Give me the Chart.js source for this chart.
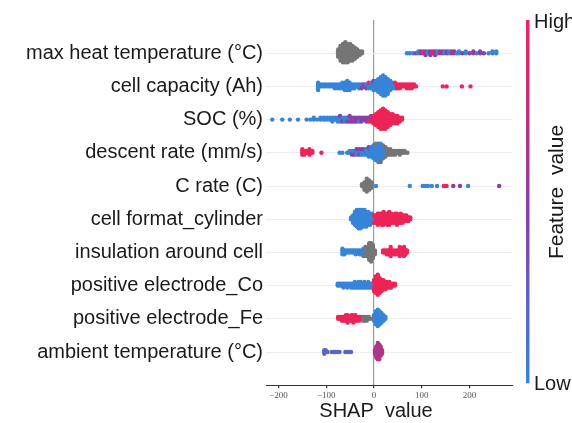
<!DOCTYPE html>
<html>
<head>
<meta charset="utf-8">
<script src="https://cdn.jsdelivr.net/npm/chart.js@4.4.1/dist/chart.umd.min.js"></script>
<style>html,body{margin:0;padding:0;background:#fff}</style>
</head>
<body>
<canvas id="c" width="572" height="423"></canvas>
<script>
// Feature names, top to bottom
const features = [
    'max heat temperature (°C)',
    'cell capacity (Ah)',
    'SOC (%)',
    'descent rate (mm/s)',
    'C rate (C)',
    'cell format_cylinder',
    'insulation around cell',
    'positive electrode_Co',
    'positive electrode_Fe',
    'ambient temperature (°C)'
];
const xTicks = [-200, -100, 0, 100, 200];

// Each entry: [SHAP value, how many samples, feature value 0..1 (null = missing -> gray)]
const maxHeatTemp = [
    [-75,5,null],[-70,9,null],[-65,11,null],[-60,12,null],[-55,11,null],[-50,10,null],[-45,9,null],[-40,7,null],[-35,5,null],[-30,3,null],[-25,2,null],
    [69,1,0],[75,1,0],[82,1,0],[88,1,0.5],[93,2,0],[98,2,0.5],[103,2,1],[108,3,0.5],[113,2,0],[118,3,0.5],[123,2,1],[128,3,0.5],[133,2,0],
    [138,2,0.7],[143,2,0.5],[148,2,0],[153,2,0.5],[158,2,0],[163,2,0.7],[168,2,0.5],[173,1,0],[178,2,0],[185,1,0.5],[192,2,0],[200,1,0.5],
    [208,2,0.5],[215,1,0],[222,2,0.5],[230,1,0.5],[240,1,0],[248,2,0],[256,2,0]
];
const cellCapacity = [
    [-117,5,0],[-112,2,0],[-106,2,0],[-100,2,0],[-94,2,0],[-88,2,0],[-82,3,0],[-76,3,0],[-71,3,0],[-66,4,0],[-61,5,0],[-56,6,0],[-51,5,0],
    [-46,3,0],[-41,3,0],[-36,2,0],[-31,3,0],[-26,2,0],[-26,1,0.5],[-21,1,1],[-21,1,0.5],[-16,2,0],[-16,1,0.5],[-11,3,0],[-11,1,1],[-6,4,0],
    [-1,5,0],[-1,1,0.5],[4,6,0],[9,8,0],[14,10,0],[19,12,0],[24,11,0],[29,9,0],[34,6,0],[39,4,0],[44,3,0],[44,1,1],[49,3,1],[54,3,1],
    [59,2,1],[64,2,1],[69,3,1],[74,3,1],[79,3,1],[84,2,1],[88,1,1],[144,1,1],[152,1,1],[184,1,1],[202,1,1]
];
const soc = [
    [-213,1,0],[-192,1,0],[-176,1,0],[-159,1,0],[-141,1,0],[-133,1,0],[-126,2,0],[-119,1,0],[-112,2,0],[-105,2,0],[-99,2,0],[-93,2,0],
    [-87,3,0],[-81,2,0],[-76,3,0],[-71,3,0],[-71,1,0.5],[-66,2,0],[-66,1,0.5],[-61,3,0],[-56,2,0],[-56,1,0.5],[-51,2,0],[-51,2,0.5],
    [-46,3,0.5],[-41,1,0],[-41,2,0.5],[-36,3,0.5],[-31,2,0.5],[-31,1,0],[-26,3,0.5],[-21,2,0.5],[-16,3,0.5],[-11,2,0.5],[-11,1,1],
    [-6,3,1],[-6,1,0.5],[-1,5,1],[4,7,1],[9,9,1],[14,11,1],[19,12,1],[24,11,1],[29,9,1],[34,7,1],[39,6,1],[44,5,1],[49,5,1],[54,3,1],[59,2,1]
];
const descentRate = [
    [-150,4,1],[-146,3,1],[-141,2,1],[-135,4,1],[-129,2,1],[-110,1,1],[-72,1,0],[-66,1,0],[-56,1,0],[-51,2,0],[-46,2,0],[-46,1,0.5],
    [-41,2,0],[-41,1,0.5],[-36,3,0],[-36,1,0.5],[-31,2,0],[-31,2,0.5],[-26,3,0],[-26,1,0.5],[-21,3,0],[-21,1,0.5],[-16,4,0],[-11,5,0],
    [-11,1,0.5],[-6,6,0],[-1,8,0],[4,9,0],[4,1,null],[9,11,0],[14,10,0],[14,1,null],[19,7,0],[19,1,null],[24,4,0],[24,2,null],
    [29,4,null],[34,4,null],[39,3,null],[44,3,null],[49,2,null],[54,3,null],[59,2,null],[64,2,null],[70,1,null]
];
const cRate = [
    [-25,2,null],[-20,5,null],[-15,2,0],[-15,6,null],[-10,6,null],[-5,4,null],[4,1,0],[75,1,0],[102,1,0],[108,1,0],[113,1,0],[121,1,0],
    [132,1,0],[146,1,1],[152,1,1],[166,1,0.5],[180,1,0.5],[197,1,0],[262,1,0.5]
];
const cellFormat = [
    [-48,2,0],[-44,5,0],[-40,8,0],[-36,10,0],[-32,11,0],[-28,11,0],[-24,10,0],[-20,10,0],[-16,9,0],[-12,8,0],[-8,7,0],[-4,6,0],[0,3,0],
    [0,2,1],[4,5,1],[8,7,1],[12,6,1],[16,7,1],[20,8,1],[24,6,1],[28,7,1],[32,8,1],[36,6,1],[40,5,1],[44,6,1],[48,7,1],[52,5,1],[56,6,1],
    [60,5,1],[64,4,1],[68,4,1],[72,3,1],[76,2,1]
];
const insulation = [
    [-66,4,0],[-62,3,0],[-58,2,0],[-54,2,0],[-50,2,0],[-46,2,0],[-42,2,0],[-38,3,0],[-34,2,0],[-30,3,0],[-26,3,0],[-22,4,0],[-22,1,null],
    [-18,3,0],[-18,3,null],[-14,6,null],[-10,10,null],[-6,11,null],[-2,8,null],[2,3,null],[19,2,1],[23,2,1],[27,3,1],[31,3,1],[35,6,1],
    [39,3,1],[44,3,1],[49,3,1],[54,6,1],[58,4,1],[63,6,1],[66,3,1],[69,2,1]
];
const positiveCo = [
    [-76,2,0],[-72,2,0],[-68,2,0],[-64,3,0],[-60,2,0],[-56,3,0],[-52,2,0],[-48,3,0],[-44,3,0],[-40,4,0],[-36,3,0],[-32,4,0],[-28,4,0],
    [-24,3,0],[-20,4,0],[-16,3,0],[-12,4,0],[-8,3,0],[-4,3,0],[0,2,0],[0,5,1],[4,10,1],[8,12,1],[12,9,1],[16,7,1],[20,6,1],[24,5,1],
    [28,4,1],[32,4,1],[36,3,1],[40,2,1],[44,2,1]
];
const positiveFe = [
    [-75,2,1],[-71,2,1],[-67,3,1],[-63,3,1],[-59,4,1],[-55,5,1],[-51,3,1],[-47,4,1],[-43,5,1],[-39,4,1],[-35,3,1],[-31,3,1],[-27,2,1],
    [-23,3,null],[-19,3,null],[-15,3,null],[-11,2,null],[-7,1,null],[0,4,0],[4,8,0],[8,10,0],[12,8,0],[16,6,0],[20,4,0],[24,2,0]
];
const ambientTemp = [
    [-104,3,0.2],[-101,2,0.2],[-97,1,0.2],[-88,1,0.2],[-84,1,0.2],[-80,1,0.2],[-76,1,0.2],[-72,1,0.2],[-60,1,0.2],[-56,1,0.2],
    [-52,1,0.2],[-48,1,0.2],[2,3,0.7],[5,7,0.7],[8,10,0.7],[11,9,0.7],[14,6,0.7],[17,3,0.7]
];

const rowData = [maxHeatTemp, cellCapacity, soc, descentRate, cRate, cellFormat, insulation, positiveCo, positiveFe, ambientTemp];

// colour map low -> high
const lowColor = [55, 132, 216];
const midColor = [140, 62, 168];
const highColor = [236, 36, 88];

function fvColor(v) {
    let a, b, t;
    if (v <= 0.5) { a = lowColor; b = midColor; t = v / 0.5; }
    else { a = midColor; b = highColor; t = (v - 0.5) / 0.5; }
    const c = a.map((x, i) => Math.round(x + (b[i] - x) * t));
    return `rgb(${c[0]},${c[1]},${c[2]})`;
}

// beeswarm: stack samples with the same SHAP value up and down
const STEP = 0.055;
const grayPts = [];
const colorPts = [];
const colorList = [];
rowData.forEach((row, i) => {
    const yc = features.length - 1 - i;
    const layers = {};
    row.forEach(([x, n, fv]) => {
        for (let k = 0; k < n; k++) {
            const L = layers[x] || 0;
            layers[x] = L + 1;
            const off = Math.ceil(L / 2) * (L % 2 ? 1 : -1) * STEP;
            const p = { x: x, y: yc + off };
            if (fv === null) {
                grayPts.push(p);
            } else {
                colorPts.push(p);
                colorList.push(fvColor(fv));
            }
        }
    });
});

// colour bar, its labels and the x title
const decor = {
    id: 'decor',
    afterDraw(chart) {
        const ctx = chart.ctx;
        const a = chart.chartArea;
        ctx.save();
        const g = ctx.createLinearGradient(0, a.bottom, 0, a.top);
        g.addColorStop(0, fvColor(0));
        g.addColorStop(0.5, fvColor(0.5));
        g.addColorStop(1, fvColor(1));
        ctx.fillStyle = g;
        ctx.fillRect(a.right + 13, a.top, 3.5, a.bottom - a.top - 2);

        ctx.fillStyle = '#1a1a1a';
        ctx.font = '20px "Liberation Sans", Arial, sans-serif';
        ctx.textBaseline = 'middle';
        ctx.textAlign = 'left';
        ctx.fillText('High', a.right + 21, a.top + 2);
        ctx.fillText('Low', a.right + 21, a.bottom - 1);
        ctx.textAlign = 'center';
        ctx.fillText('SHAP  value', 376, 411);

        ctx.font = '21px "Liberation Sans", Arial, sans-serif';
        ctx.translate(557, 192);
        ctx.rotate(-Math.PI / 2);
        ctx.fillText('Feature  value', 0, 0);
        ctx.restore();
    }
};

new Chart(document.getElementById('c'), {
    type: 'scatter',
    data: {
        datasets: [
            { data: grayPts, backgroundColor: '#757575', pointRadius: 2.2, borderWidth: 0 },
            { data: colorPts, backgroundColor: colorList, pointRadius: 2.2, borderWidth: 0 }
        ]
    },
    options: {
        responsive: false,
        animation: false,
        layout: { padding: { top: 20, right: 59, bottom: 20, left: 0 } },
        plugins: { legend: { display: false }, tooltip: { enabled: false } },
        scales: {
            x: {
                min: -226,
                max: 291,
                afterBuildTicks: s => { s.ticks = xTicks.map(v => ({ value: v })); },
                grid: {
                    color: c => (c.tick && c.tick.value === 0) ? '#9a9a9a' : 'rgba(0,0,0,0)',
                    lineWidth: 1.2,
                    tickColor: '#333',
                    tickLength: 3
                },
                border: { color: '#333', width: 1 },
                ticks: {
                    font: { family: 'Liberation Serif', size: 9 },
                    color: '#555',
                    padding: 2,
                    maxRotation: 0,
                    callback: v => String(v).replace('-', '\u2212')
                }
            },
            y: {
                min: -1,
                max: 10,
                afterBuildTicks: s => { s.ticks = features.map((f, i) => ({ value: i })); },
                afterFit: s => { s.width = 266; },
                grid: { color: '#eeeeee', drawTicks: false },
                border: { display: false },
                ticks: {
                    font: { family: 'Liberation Sans', size: 20 },
                    color: '#1a1a1a',
                    padding: 3,
                    callback: v => features[features.length - 1 - v]
                }
            }
        }
    },
    plugins: [decor]
});
</script>
</body>
</html>
